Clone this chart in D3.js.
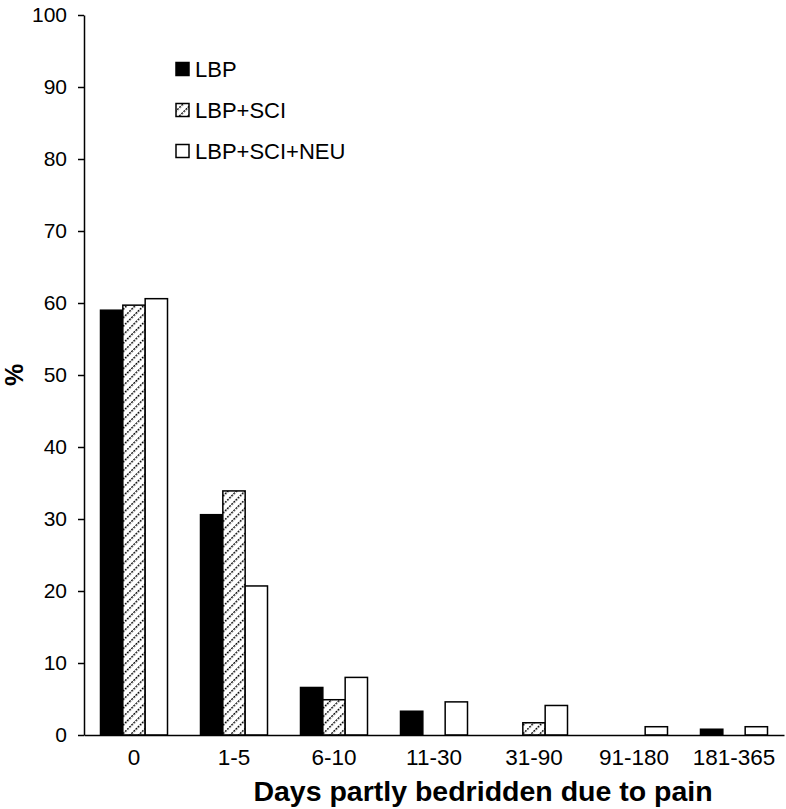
<!DOCTYPE html>
<html>
<head>
<meta charset="utf-8">
<script src="https://cdn.jsdelivr.net/npm/d3@7"></script>
<style>
  body { margin: 0; background: #fff; }
  text { font-family: "Liberation Sans", Arial, sans-serif; fill: #000; }
</style>
</head>
<body>
<svg id="chart" width="786" height="809"></svg>
<script>
const categories = ['0', '1-5', '6-10', '11-30', '31-90', '91-180', '181-365'];
const seriesNames = ['LBP', 'LBP+SCI', 'LBP+SCI+NEU'];
const lbp = [59.0, 30.6, 6.6, 3.3, 0, 0, 0.8];
const lbpSci = [59.7, 33.9, 4.9, 0, 1.7, 0, 0];
const lbpSciNeu = [60.6, 20.7, 8.0, 4.6, 4.1, 1.15, 1.15];
const yTicks = [0, 10, 20, 30, 40, 50, 60, 70, 80, 90, 100];

const seriesValues = [lbp, lbpSci, lbpSciNeu];
const fills = ['#000', 'url(#hatch)', '#fff'];

const svg = d3.select('#chart');
const margin = { top: 15, right: 2, bottom: 74, left: 84 };
const width = +svg.attr('width');
const height = +svg.attr('height');

// diagonal hatch for LBP+SCI
const defs = svg.append('defs');
const pat = defs.append('pattern')
  .attr('id', 'hatch')
  .attr('patternUnits', 'userSpaceOnUse')
  .attr('width', 6)
  .attr('height', 6)
  .attr('patternTransform', 'rotate(45)');
pat.append('rect').attr('width', 6).attr('height', 6).attr('fill', '#fff');
pat.append('line')
  .attr('x1', 0).attr('y1', 0).attr('x2', 0).attr('y2', 6)
  .attr('stroke', '#000')
  .attr('stroke-width', 2.8)
  .attr('stroke-dasharray', '2 1');

const x = d3.scaleBand()
  .domain(categories)
  .range([margin.left, width - margin.right])
  .paddingInner(0.33)
  .paddingOuter(0.165);

const xs = d3.scaleBand()
  .domain(seriesNames)
  .range([0, x.bandwidth()]);

const y = d3.scaleLinear()
  .domain([0, 100])
  .range([height - margin.bottom, margin.top]);

const rows = categories.map((c, i) => ({
  cat: c,
  vals: seriesNames.map((s, j) => ({ s, j, v: seriesValues[j][i] }))
}));

const groups = svg.append('g').selectAll('g')
  .data(rows)
  .enter().append('g')
  .attr('transform', d => `translate(${x(d.cat)},0)`);

groups.selectAll('rect')
  .data(d => d.vals.filter(e => e.v > 0))
  .enter().append('rect')
  .attr('x', d => xs(d.s))
  .attr('y', d => y(d.v))
  .attr('width', xs.bandwidth())
  .attr('height', d => y(0) - y(d.v))
  .attr('fill', d => fills[d.j])
  .attr('stroke', '#000')
  .attr('stroke-width', 1.5);

// y axis
const yAxis = svg.append('g')
  .attr('transform', `translate(${margin.left},0)`)
  .call(d3.axisLeft(y).tickValues(yTicks).tickSize(6).tickPadding(11).tickSizeOuter(0));
yAxis.select('.domain').attr('stroke-width', 1.5);
yAxis.selectAll('.tick line').attr('stroke-width', 1.5);
yAxis.selectAll('.tick text')
  .style('font-family', '"Liberation Sans", Arial, sans-serif')
  .attr('font-size', 21);

// x axis
const xAxis = svg.append('g')
  .attr('transform', `translate(0,${y(0)})`)
  .call(d3.axisBottom(x).tickSize(0).tickPadding(14).tickSizeOuter(0));
xAxis.select('.domain').attr('stroke-width', 1.5);
xAxis.selectAll('.tick text')
  .style('font-family', '"Liberation Sans", Arial, sans-serif')
  .attr('font-size', 22.5);

// axis titles
svg.append('text')
  .attr('transform', `translate(23,${(y(0) + y(100)) / 2}) rotate(-90)`)
  .attr('text-anchor', 'middle')
  .attr('font-size', 25)
  .attr('font-weight', 'bold')
  .text('%');

svg.append('text')
  .attr('x', 483)
  .attr('y', 801)
  .attr('text-anchor', 'middle')
  .attr('font-size', 28.5)
  .attr('font-weight', 'bold')
  .text('Days partly bedridden due to pain');

// legend
const legend = svg.append('g').attr('transform', 'translate(176,69)');
const li = legend.selectAll('g')
  .data(seriesNames)
  .enter().append('g')
  .attr('transform', (d, i) => `translate(0,${i * 41})`);
li.append('rect')
  .attr('x', 0).attr('y', -6.5)
  .attr('width', 13).attr('height', 13)
  .attr('fill', (d, i) => fills[i])
  .attr('stroke', '#000')
  .attr('stroke-width', 1.5);
li.append('text')
  .attr('x', 19)
  .attr('y', 8)
  .attr('font-size', 22)
  .text(d => d);
</script>
</body>
</html>
